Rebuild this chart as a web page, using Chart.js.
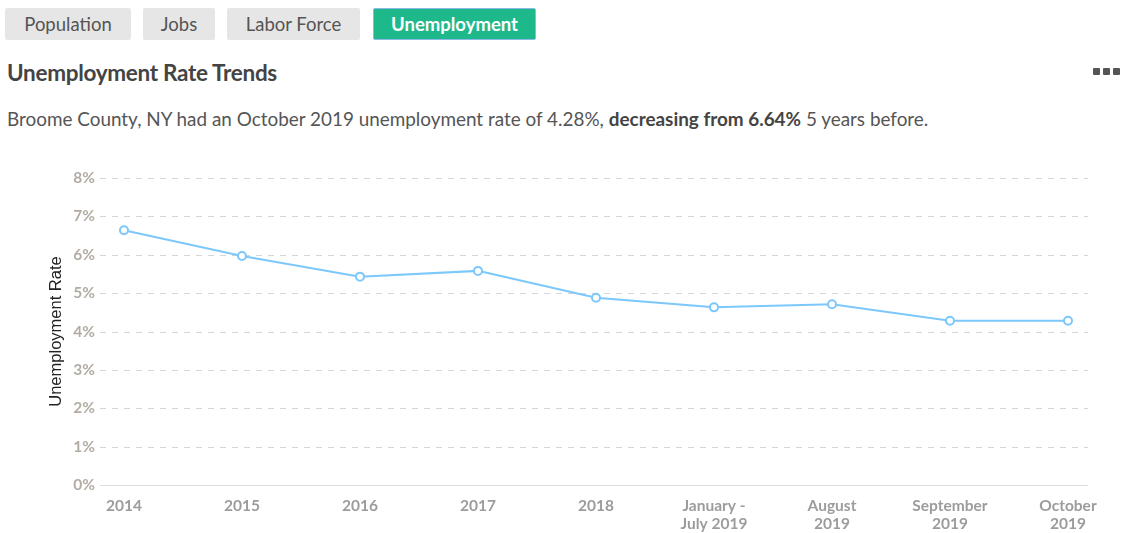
<!DOCTYPE html>
<html>
<head>
<meta charset="utf-8">
<script src="https://cdn.jsdelivr.net/npm/chart.js@4"></script>
<style>
  html, body { margin: 0; padding: 0; background: #fff; }
  body { width: 1123px; height: 533px; position: relative; overflow: hidden; font-family: Lato, "Open Sans", sans-serif; }
  .tab { position: absolute; top: 8px; height: 32px; line-height: 32px; text-align: center; background: #e6e6e6; color: #555; font-size: 18.5px; border-radius: 2px; box-sizing: border-box; }
  .tab.active { background: #1db98b; color: #fff; font-weight: bold; border: 1px solid #8ab8e8; line-height: 30px; }
  h2 { position: absolute; left: 7px; top: 59px; margin: 0; font-size: 22.5px; font-weight: bold; color: #444; letter-spacing: -0.3px; }
  .more { position: absolute; left: 1093px; top: 68px; display: flex; }
  .more span { width: 7px; height: 7px; background: #555; border-radius: 1px; margin-right: 3px; }
  .desc { position: absolute; left: 7px; top: 107px; margin: 0; font-size: 18.9px; color: #555; }
  .desc b { color: #444; }
  .chartbox { position: absolute; left: 0; top: 150px; width: 1123px; height: 399px; }
</style>
</head>
<body>
<div class="tab" style="left:5px;width:126px">Population</div>
<div class="tab" style="left:143px;width:72px">Jobs</div>
<div class="tab" style="left:227px;width:133px">Labor Force</div>
<div class="tab active" style="left:373px;width:163px">Unemployment</div>
<h2>Unemployment Rate Trends</h2>
<div class="more"><span></span><span></span><span></span></div>
<p class="desc">Broome County, NY had an October 2019 unemployment rate of 4.28%, <b>decreasing from 6.64%</b> 5 years before.</p>
<div class="chartbox"><canvas id="chart" width="1123" height="399"></canvas></div>

<script>
// Period labels along the x axis (multi-line where the label wraps)
const periods = [
  ['2014'], ['2015'], ['2016'], ['2017'], ['2018'],
  ['January -', 'July 2019'], ['August', '2019'], ['September', '2019'], ['October', '2019']
];
// Unemployment rate, percent
const rates = [6.64, 5.97, 5.43, 5.58, 4.88, 4.63, 4.71, 4.28, 4.28];
// Y axis ticks, percent
const yTicks = [0, 1, 2, 3, 4, 5, 6, 7, 8];

const points = rates.map((v, i) => ({ x: i, y: v }));

new Chart(document.getElementById('chart'), {
  type: 'line',
  data: {
    datasets: [{
      label: 'Unemployment Rate',
      data: points,
      borderColor: '#7cc8fb',
      backgroundColor: '#ffffff',
      borderWidth: 2,
      pointRadius: 4,
      pointBorderWidth: 2,
      pointBackgroundColor: '#ffffff',
      pointBorderColor: '#7cc8fb',
      tension: 0,
      fill: false
    }]
  },
  options: {
    responsive: false,
    animation: false,
    layout: { padding: { left: 43, right: 35, top: 28, bottom: 4 } },
    plugins: { legend: { display: false }, tooltip: { enabled: false } },
    scales: {
      x: {
        type: 'linear',
        min: -24 / 118,
        max: 8 + 20 / 118,
        afterBuildTicks: (scale) => { scale.ticks = periods.map((p, i) => ({ value: i })); },
        ticks: {
          autoSkip: false,
          maxRotation: 0,
          padding: 12,
          color: '#9c9c9c',
          font: { family: 'Lato', size: 15.5, weight: 'bold', lineHeight: 1.16 },
          callback: (v) => periods[v]
        },
        grid: { display: false, drawTicks: false },
        border: { display: false }
      },
      y: {
        min: 0,
        max: 8,
        afterBuildTicks: (scale) => { scale.ticks = yTicks.map(v => ({ value: v })); },
        afterFit: (scale) => { scale.width = 57; },
        ticks: {
          padding: 5,
          color: '#b3aca3',
          font: { family: 'Lato', size: 15.5, weight: 'bold' },
          callback: (v) => v + '%'
        },
        grid: { display: false, drawTicks: false },
        border: { display: false },
        title: {
          display: true,
          text: 'Unemployment Rate',
          color: '#222',
          font: { family: 'Liberation Sans', size: 16.5, lineHeight: 1.2 },
          padding: { top: 4, bottom: 0 }
        }
      }
    }
  },
  plugins: [{
    // dashed grid lines, with a solid baseline at 0%
    id: 'dashedGrid',
    beforeDatasetsDraw(chart) {
      const y = chart.scales.y;
      const ctx = chart.ctx, area = chart.chartArea;
      ctx.save();
      yTicks.forEach(v => {
        const py = Math.round(y.getPixelForValue(v)) + 0.5;
        ctx.beginPath();
        ctx.lineWidth = 1;
        if (v === 0) { ctx.setLineDash([]); ctx.strokeStyle = '#dddddd'; }
        else { ctx.setLineDash([6, 6]); ctx.strokeStyle = '#d6d6d6'; }
        ctx.moveTo(area.left, py);
        ctx.lineTo(area.right, py);
        ctx.stroke();
      });
      ctx.restore();
    }
  }]
});
</script>
</body>
</html>
